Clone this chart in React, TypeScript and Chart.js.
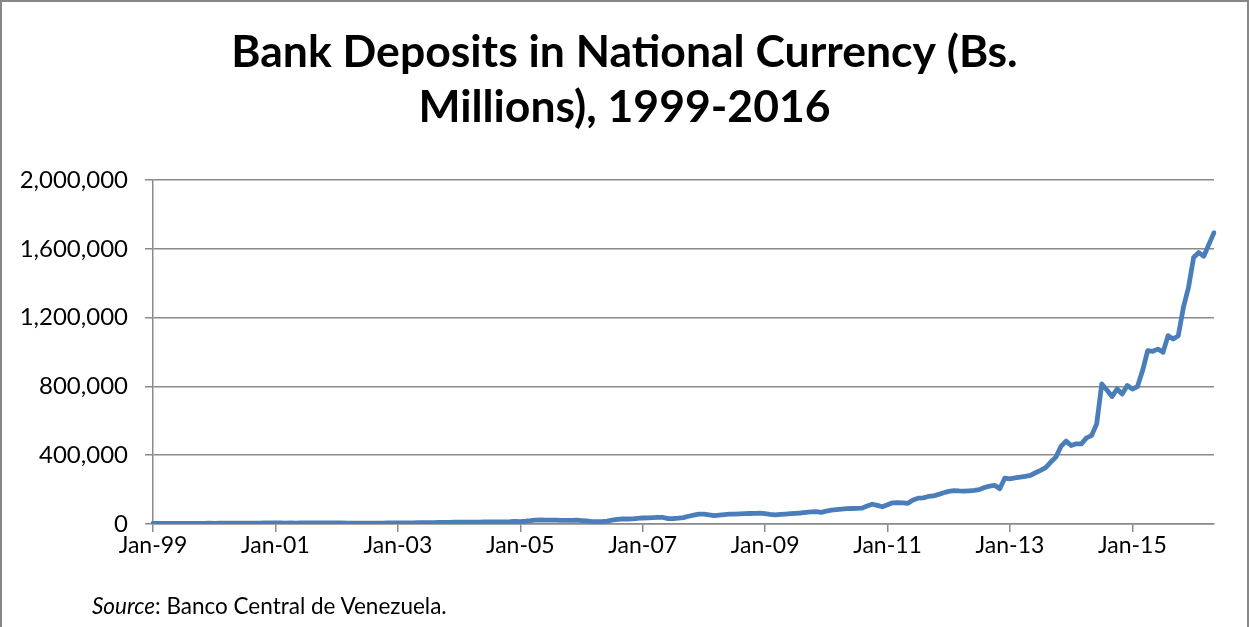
import React, { useEffect, useRef } from 'react';
import { Chart, registerables } from 'chart.js';

Chart.register(...registerables);

// ---- Data (Bs. millions, monthly) ----
const MONTH_NAMES = ['Jan', 'Feb', 'Mar', 'Apr', 'May', 'Jun', 'Jul', 'Aug', 'Sep', 'Oct', 'Nov', 'Dec'];
const START_YEAR = 1999;

const v1999 = [3000, 3100, 3200, 3300, 3400, 3500, 3600, 3700, 3800, 3900, 4100, 4500];
const v2000 = [4200, 4300, 4400, 4500, 4700, 4800, 5000, 5100, 5300, 5500, 5700, 6200];
const v2001 = [5800, 5700, 5600, 5700, 5600, 5700, 5800, 5900, 5900, 6000, 6100, 6600];
const v2002 = [6000, 5700, 5400, 5200, 5000, 4900, 5000, 5100, 5300, 5500, 5800, 6400];
const v2003 = [5900, 6200, 6500, 6900, 7300, 7700, 8100, 8500, 8900, 9300, 9800, 10800];
const v2004 = [10200, 10400, 10700, 11000, 11300, 11600, 11900, 12200, 12500, 12900, 13400, 14800];
const v2005 = [14000, 16000, 19000, 23000, 24000, 23000, 22000, 22000, 21000, 21000, 21000, 22000];
const v2006 = [20000, 18000, 14000, 13000, 14000, 17000, 22000, 27000, 29000, 29000, 30000, 33000];
const v2007 = [35000, 36000, 37000, 38000, 38000, 31000, 32000, 34000, 37000, 45000, 52000, 57000];
const v2008 = [57000, 53000, 49000, 52000, 55000, 57000, 58000, 59000, 60000, 61000, 62000, 63000];
const v2009 = [60000, 56000, 53000, 56000, 58000, 60000, 62000, 64000, 68000, 71000, 72000, 68000];
const v2010 = [75000, 80000, 84000, 87000, 89000, 90000, 91000, 92000, 105000, 115000, 108000, 100000];
const v2011 = [112000, 123000, 124000, 123000, 120000, 140000, 150000, 152000, 160000, 163000, 172000, 182000];
const v2012 = [190000, 194000, 192000, 191000, 193000, 195000, 200000, 212000, 220000, 225000, 205000, 267000];
const v2013 = [263000, 268000, 272000, 277000, 283000, 298000, 312000, 328000, 360000, 389000, 451000, 482000];
const v2014 = [456000, 466000, 466000, 501000, 514000, 582000, 814000, 779000, 741000, 785000, 756000, 805000];
const v2015 = [785000, 799000, 892000, 1008000, 1004000, 1017000, 998000, 1095000, 1075000, 1095000, 1259000, 1375000];
const v2016 = [1549000, 1578000, 1557000, 1626000, 1694000];

const YEARLY = [v1999, v2000, v2001, v2002, v2003, v2004, v2005, v2006, v2007, v2008, v2009, v2010, v2011, v2012, v2013, v2014, v2015, v2016];

const TITLE_LINES = ['Bank Deposits in National Currency (Bs.', 'Millions), 1999-2016'];
const Y_MIN = 0;
const Y_MAX = 2000000;
const Y_STEP = 400000;
const X_LABEL_EVERY = 24; // Jan-99, Jan-01, ... Jan-15

const categories: string[] = [];
const values: number[] = [];
YEARLY.forEach((arr, yi) => {
  const yy = String((START_YEAR + yi) % 100).padStart(2, '0');
  arr.forEach((v, mi) => {
    categories.push(`${MONTH_NAMES[mi]}-${yy}`);
    values.push(v);
  });
});

const GRID = '#8a8a8a';
const FONT = 'Lato';

export default function App() {
  const ref = useRef<HTMLCanvasElement | null>(null);

  useEffect(() => {
    if (!ref.current) return;
    const chart = new Chart(ref.current, {
      type: 'line',
      data: {
        labels: categories,
        datasets: [
          {
            data: values,
            yAxisID: 'y',
            borderColor: '#4a7ebb',
            borderWidth: 4.8,
            pointRadius: 0,
            tension: 0,
            fill: false,
            borderJoinStyle: 'round',
            borderCapStyle: 'round',
          },
        ],
      },
      options: {
        animation: false,
        responsive: false,
        maintainAspectRatio: false,
        layout: { padding: { left: 0, right: 0, top: 0, bottom: 63 } },
        plugins: {
          legend: { display: false },
          tooltip: { enabled: false },
          title: {
            display: true,
            text: TITLE_LINES,
            color: '#000',
            font: { family: FONT, size: 44.5, weight: 'bold', lineHeight: 55 / 44.5 },
            padding: { top: 23, bottom: 45 },
          },
        },
        scales: {
          x: {
            type: 'category',
            offset: false,
            grid: {
              display: true,
              drawOnChartArea: false,
              drawTicks: true,
              tickLength: 8,
              color: GRID,
              lineWidth: 1.5,
            },
            border: { display: true, color: GRID, width: 1.5 },
            ticks: {
              autoSkip: false,
              maxRotation: 0,
              minRotation: 0,
              padding: 0,
              color: '#000',
              font: { family: FONT, size: 23 },
              callback: (_v: any, i: number) => (i % X_LABEL_EVERY === 0 ? categories[i] : null),
            },
            afterFit: (s: any) => {
              s.height = 40;
            },
          },
          y: {
            position: 'left',
            min: Y_MIN,
            max: Y_MAX,
            ticks: {
              stepSize: Y_STEP,
              padding: 17,
              color: '#000',
              font: { family: FONT, size: 24 },
              callback: (v: any) => Number(v).toLocaleString('en-US'),
            },
            grid: { color: GRID, lineWidth: 1.5, tickLength: 8, drawTicks: true },
            border: { display: true, color: GRID, width: 1.5 },
            afterFit: (s: any) => {
              s.width = 151;
            },
          },
          yRightSpacer: {
            type: 'linear',
            position: 'right',
            display: true,
            min: Y_MIN,
            max: Y_MAX,
            grid: { display: false, drawTicks: false },
            border: { display: false },
            ticks: { display: false },
            afterFit: (s: any) => {
              s.width = 33;
            },
          },
        },
      },
    } as any);
    return () => chart.destroy();
  }, []);

  return (
    <div
      style={{
        position: 'fixed',
        left: 0,
        top: 0,
        width: 1249,
        height: 627,
        boxSizing: 'border-box',
        borderTop: '2px solid #878787',
        borderLeft: '2px solid #878787',
        borderRight: '2px solid #878787',
        background: '#fff',
      }}
    >
      <canvas ref={ref} width={1245} height={625} style={{ display: 'block', width: 1245, height: 625 }} />
      <div
        style={{
          position: 'absolute',
          left: 90,
          top: 591,
          fontFamily: FONT,
          fontSize: 22.5,
          lineHeight: '26px',
          color: '#000',
          whiteSpace: 'nowrap',
        }}
      >
        <i>Source</i>: Banco Central de Venezuela.
      </div>
    </div>
  );
}
